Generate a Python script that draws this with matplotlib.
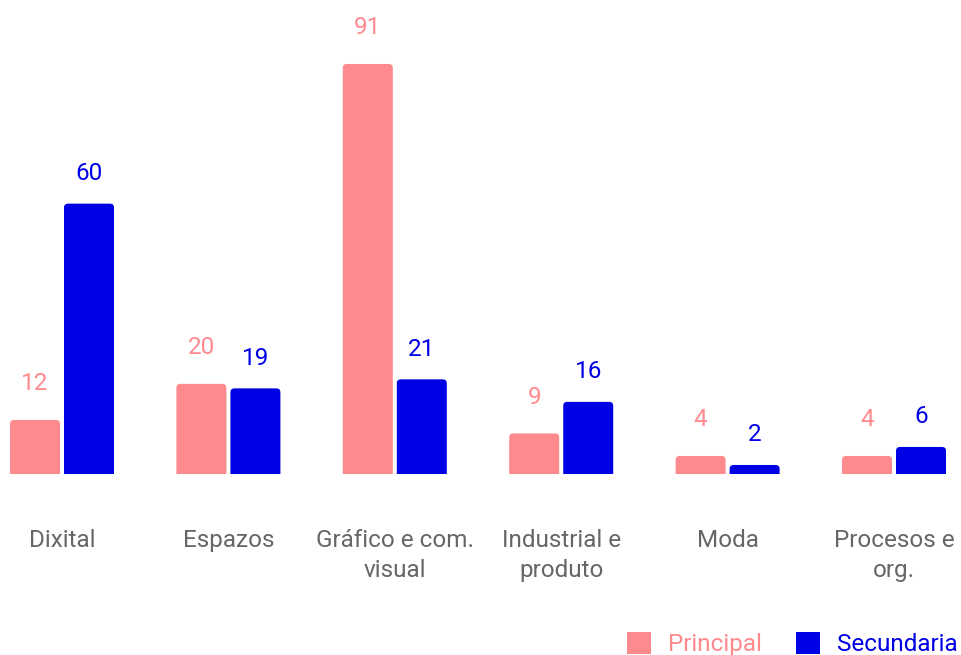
import matplotlib
matplotlib.use("Agg")
import matplotlib.pyplot as plt
from matplotlib.patches import FancyBboxPatch, Rectangle, Patch

plt.rcParams['font.family'] = ['Roboto', 'DejaVu Sans']

categories = ["Dixital", "Espazos", "Gráfico e com.\nvisual", "Industrial e\nproduto",
              "Moda", "Procesos e\norg."]
principal = [12, 20, 91, 9, 4, 4]
secundaria = [60, 19, 21, 16, 2, 6]
series_names = ["Principal", "Secundaria"]

PINK = "#ff8a8e"
BLUE = "#0000e4"
GRAY = "#666666"
FS = 17.5

W, H, DPI = 961, 655, 100
fig = plt.figure(figsize=(W / DPI, H / DPI), dpi=DPI)
ax = fig.add_axes([0, 0, 1, 1])
ax.set_axis_off()

xmin, xmax = -0.3726, 5.4026
ymin, ymax = -40.18, 105.2
ax.set_xlim(xmin, xmax)
ax.set_ylim(ymin, ymax)

bar_w = 0.3005
offset = 0.1623
x = list(range(len(categories)))

# rounded-top bars: round box extended below zero, clipped at the baseline
px_per_x = W / (xmax - xmin)
px_per_y = H / (ymax - ymin)
aspect = px_per_x / px_per_y
r = 4 / px_per_x
clip = Rectangle((xmin, 0), xmax - xmin, ymax, transform=ax.transData)

def draw_series(vals, dx, color, label_off):
    bars = ax.bar([i + dx for i in x], vals, width=bar_w, color=color, alpha=0)
    for b, v in zip(bars, vals):
        bottom = -r * aspect * 2
        p = FancyBboxPatch((b.get_x(), bottom), b.get_width(), v - bottom,
                           boxstyle=f"round,pad=0,rounding_size={r}",
                           mutation_aspect=aspect, fc=color, ec="none",
                           transform=ax.transData)
        ax.add_patch(p)
        p.set_clip_path(clip)
        ax.annotate(str(v), (b.get_x() + b.get_width() / 2, v),
                    xytext=(0, label_off), textcoords="offset points",
                    ha="center", va="center", color=color, fontsize=FS)

draw_series(principal, -offset, PINK, 26.2)
draw_series(secundaria, offset, BLUE, 21.8)

for i, c in enumerate(categories):
    ax.text(i, -12.2, c, ha="center", va="top", color=GRAY, fontsize=FS,
            linespacing=1.39)

handles = [Patch(fc=PINK, ec="none"), Patch(fc=BLUE, ec="none")]
ax.legend(handles, series_names, loc="lower right", bbox_to_anchor=(0.997, -0.002),
          ncol=2, frameon=False, fontsize=FS, labelcolor=[PINK, BLUE],
          handlelength=1.0, handleheight=1.0, handletextpad=0.7,
          columnspacing=1.4, borderaxespad=0.0, borderpad=0.0)

fig.savefig("out.png", dpi=DPI)
